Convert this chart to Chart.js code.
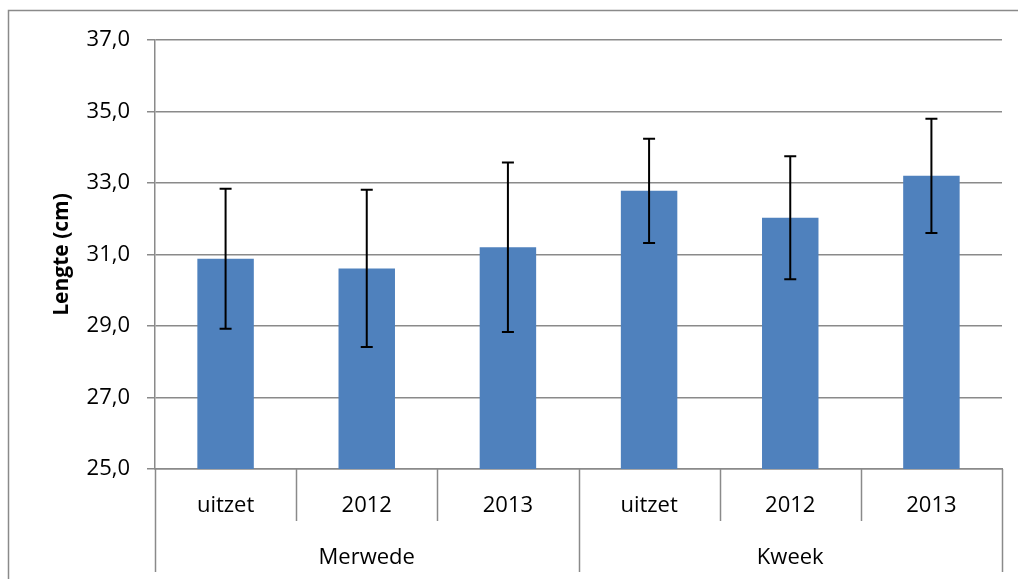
<!DOCTYPE html>
<html>
<head>
<meta charset="utf-8">
<script src="https://cdn.jsdelivr.net/npm/chart.js@4/dist/chart.umd.min.js"></script>
<style>
  html, body { margin: 0; padding: 0; background: #fff; }
  #wrap { width: 1018px; height: 579px; position: relative; }
</style>
</head>
<body>
<div id="wrap"><canvas id="lengthChart"></canvas></div>
<script>
// data
const categories = ['uitzet', '2012', '2013', 'uitzet', '2012', '2013'];
const groupLabels = ['Merwede', 'Kweek'];
const groupSizes = [3, 3];
const meanLength = [30.88, 30.61, 31.20, 32.78, 32.03, 33.20];
const stdDev = [1.96, 2.20, 2.37, 1.46, 1.72, 1.60];
const yMin = 25, yMax = 37, yStep = 2;

const FONT = "'Open Sans', 'Liberation Sans', sans-serif";
const GRID = '#8a8a8a';

// outer frame of the chart object (top + left edge visible)
const framePlugin = {
  id: 'frame',
  beforeDraw(chart) {
    const ctx = chart.ctx;
    ctx.save();
    ctx.strokeStyle = GRID;
    ctx.lineWidth = 1.5;
    ctx.beginPath();
    ctx.moveTo(8.5, chart.height);
    ctx.lineTo(8.5, 10.5);
    ctx.lineTo(chart.width, 10.5);
    ctx.stroke();
    ctx.restore();
  }
};

// error bars, one per bar
const errorBarPlugin = {
  id: 'errorBars',
  afterDatasetsDraw(chart) {
    const ctx = chart.ctx;
    const y = chart.scales.y;
    const meta = chart.getDatasetMeta(0);
    ctx.save();
    ctx.strokeStyle = '#000';
    ctx.lineWidth = 2;
    meta.data.forEach((bar, i) => {
      const top = y.getPixelForValue(meanLength[i] + stdDev[i]);
      const bot = y.getPixelForValue(meanLength[i] - stdDev[i]);
      const cap = 6;
      ctx.beginPath();
      ctx.moveTo(bar.x, top); ctx.lineTo(bar.x, bot);
      ctx.moveTo(bar.x - cap, top); ctx.lineTo(bar.x + cap, top);
      ctx.moveTo(bar.x - cap, bot); ctx.lineTo(bar.x + cap, bot);
      ctx.stroke();
    });
    ctx.restore();
  }
};

// two-level category axis: separators and group labels
const groupAxisPlugin = {
  id: 'groupAxis',
  afterDraw(chart) {
    const ctx = chart.ctx;
    const x = chart.scales.x;
    const area = chart.chartArea;
    const half = (x.getPixelForValue(1) - x.getPixelForValue(0)) / 2;
    const groupEdges = [0];
    groupSizes.forEach(n => groupEdges.push(groupEdges[groupEdges.length - 1] + n));

    ctx.save();
    ctx.strokeStyle = GRID;
    ctx.lineWidth = 1.5;
    for (let i = 0; i <= categories.length; i++) {
      const px = Math.round(x.getPixelForValue(i) - half) + 0.5;
      const long = groupEdges.includes(i);
      ctx.beginPath();
      ctx.moveTo(px, area.bottom);
      ctx.lineTo(px, area.bottom + (long ? 103 : 52));
      ctx.stroke();
    }

    ctx.fillStyle = '#000';
    ctx.font = '22px ' + FONT;
    ctx.textAlign = 'center';
    ctx.textBaseline = 'middle';
    groupLabels.forEach((lbl, g) => {
      const a = x.getPixelForValue(groupEdges[g]) - half;
      const b = x.getPixelForValue(groupEdges[g + 1]) - half;
      ctx.fillText(lbl, (a + b) / 2, area.bottom + 89);
    });
    ctx.restore();
  }
};

new Chart(document.getElementById('lengthChart'), {
  type: 'bar',
  data: {
    labels: categories,
    datasets: [{
      data: meanLength,
      backgroundColor: '#4f81bd',
      borderWidth: 0,
      barPercentage: 0.4,
      categoryPercentage: 1.0
    }]
  },
  options: {
    responsive: true,
    maintainAspectRatio: false,
    animation: false,
    layout: { padding: { top: 40, right: 16, bottom: 0, left: 0 } },
    plugins: { legend: { display: false }, tooltip: { enabled: false } },
    scales: {
      x: {
        offset: true,
        grid: { display: false, drawTicks: false },
        border: { display: true, color: GRID, width: 1.5 },
        ticks: { color: '#000', font: { family: FONT, size: 22 }, padding: 24, maxRotation: 0, autoSkip: false },
        afterFit: s => { s.height = 110; }
      },
      y: {
        min: yMin,
        max: yMax,
        grid: { color: GRID, lineWidth: 1.5, tickLength: 8 },
        border: { display: true, color: GRID, width: 1.5 },
        ticks: {
          stepSize: yStep,
          color: '#000',
          padding: 17,
          font: { family: FONT, size: 22 },
          callback: v => v.toFixed(1).replace('.', ',')
        },
        title: {
          display: true,
          text: 'Lengte (cm)',
          color: '#000',
          font: { family: FONT, size: 21, weight: 'bold' },
          padding: { top: 49, bottom: 0 }
        },
        afterFit: s => { s.width = 155; }
      }
    }
  },
  plugins: [framePlugin, errorBarPlugin, groupAxisPlugin]
});
</script>
</body>
</html>
